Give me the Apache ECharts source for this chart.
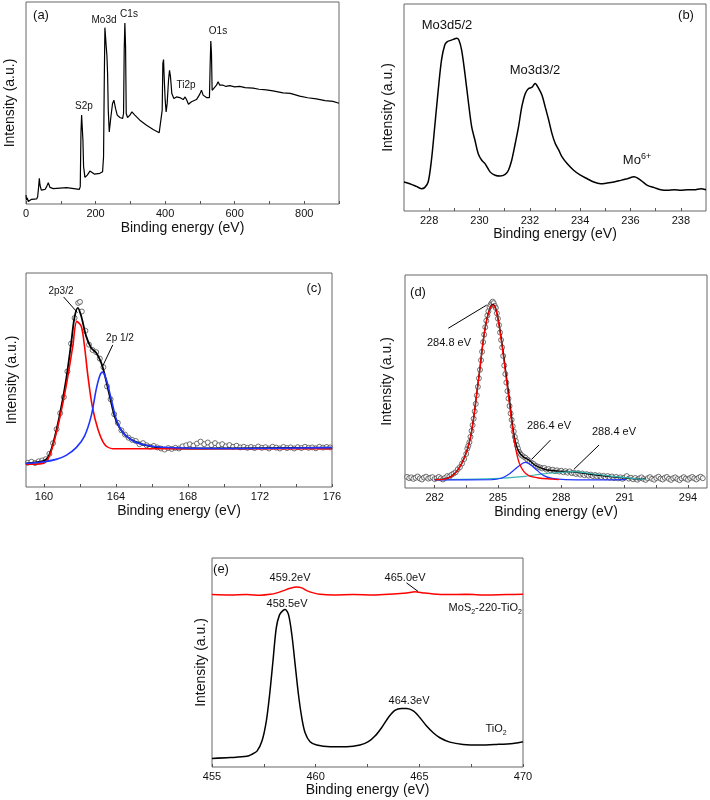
<!DOCTYPE html>
<html><head><meta charset="utf-8">
<script src="https://cdn.jsdelivr.net/npm/echarts@6/dist/echarts.min.js"></script>
<style>html,body{margin:0;padding:0;background:#fff}#c{width:710px;height:800px}</style>
</head><body><div id="c"></div>
<script>
// ---------- (a) survey ----------
const aX = [0,1.9,3.8,6.7,16,30.6,33.5,36.4,38.3,40.2,44,54.6,59.4,64.1,69,78.5,116.8,153.2,156,158,159.9,161.8,163.7,165.6,169.5,176.2,183.8,188.6,196.3,212.5,220.2,223,225,226.9,228.8,230.7,232.6,234.6,236.5,239.4,244.1,248.9,252.7,257.5,262.3,270,277.7,280.5,282.4,284.3,286.3,288.2,292,298.7,304.5,313,327.4,346.6,365.7,383,388.7,391.6,393.5,395.5,397.3,400.2,403,405.9,409.8,412.7,415.5,419.3,425.1,432.7,442.3,451.9,457.6,459.6,462.4,467.2,475.8,490.2,499.8,504.5,509.3,518.9,527.5,529.4,531.4,533.3,535.2,540,547.7,552.4,557.2,566.8,575,585.9,600,614.6,630,653,670,691.2,710,739.1,760,787,810,834.9,860,882.7,900];
const aY = [4.4,2.0,3.0,1.2,2.3,2.5,3.6,8.6,12.7,9.4,6.9,7.2,8.6,10.5,8.2,7.6,8.1,7.2,8.6,34.9,44.0,43.2,31.6,18.5,13.2,14.3,16.3,16.0,14.8,15.2,16.0,23.4,59.6,87.3,86.8,77.8,73.6,64.6,46.5,35.7,43.2,49.8,51.4,47.3,44.0,42.8,42.3,44.8,76.1,89.6,77.8,44.8,42.8,44.0,45.6,44.0,41.5,39.0,36.9,35.3,35.4,46.5,69.5,71.5,62.9,51.4,45.6,49.8,61.3,66.2,62.9,54.7,52.2,53.0,52.7,51.7,53.0,53.9,51.4,49.4,50.6,51.7,54.4,56.3,53.9,52.7,52.7,67.9,80.7,74.5,56.3,56.7,58.8,60.5,58.8,58.8,58.2,58.6,58.0,58.2,57.6,57.4,56.8,56.5,56.0,55.0,54.8,53.4,52.6,52.0,51.2,50.8,49.9];
const aTicks = [0,200,400,600,800];

// ---------- (b) Mo 3d ----------
const bX = [227.00,227.23,227.49,227.69,227.82,227.96,228.09,228.22,228.36,228.49,228.62,228.72,228.82,228.96,229.09,229.18,229.29,229.42,229.55,229.69,229.82,229.95,230.09,230.22,230.42,230.62,230.82,231.02,231.15,231.28,231.42,231.55,231.68,231.82,231.95,232.08,232.21,232.35,232.48,232.61,232.75,232.88,233.01,233.15,233.28,233.48,233.74,234.01,234.28,234.54,234.81,235.07,235.34,235.61,235.87,236.14,236.41,236.67,236.94,237.20,237.47,237.74,238.00,238.27,238.53,238.80,239.00];
const bY = [14.0,13.2,11.9,10.8,11.3,14.0,24.5,40.6,58.4,72.9,80.2,81.8,82.3,82.9,83.4,82.6,77.7,66.5,53.5,40.6,34.2,27.7,24.5,22.9,18.9,17.3,16.9,17.7,19.7,24.5,32.6,40.6,50.3,56.8,59.2,59.7,61.6,59.2,56.0,50.3,43.9,37.4,32.6,29.4,26.1,22.9,19.7,17.3,15.6,14.0,13.2,13.5,14.0,14.8,15.6,16.5,14.8,12.4,11.3,10.3,10.0,10.3,10.0,10.3,10.3,10.8,10.3];
const bTicks = [228,230,232,234,236,238];

// ---------- (c) S 2p ----------
const cPts = [[159.1,11.3],[159.3,11.8],[159.5,11.2],[159.7,12.0],[159.9,12.4],[160.1,13.0],[160.3,15.5],[160.5,20.5],[160.7,27.0],[160.9,34.5],[161.1,42.0],[161.3,54.0],[161.5,67.0],[161.7,79.0],[161.9,86.0],[162.0,86.5],[162.1,82.0],[162.3,73.0],[162.5,66.5],[162.7,64.0],[162.9,63.0],[163.1,60.0],[163.3,56.0],[163.5,47.0],[163.7,41.0],[163.9,34.0],[164.1,30.0],[164.3,26.5],[164.5,24.5],[164.7,23.0],[164.9,22.0],[165.1,21.5],[165.3,20.0],[165.5,20.5],[165.7,19.5],[165.9,18.8],[166.1,19.2],[166.3,18.5],[166.5,18.0],[166.7,17.5],[166.9,18.2],[167.1,17.8],[167.3,18.3],[167.5,18.0],[167.7,19.0],[167.9,19.5],[168.1,20.0],[168.3,19.3],[168.5,20.3],[168.7,21.2],[168.9,20.0],[169.1,20.8],[169.3,19.6],[169.5,20.5],[169.7,19.5],[169.9,20.0],[170.1,19.0],[170.3,19.6],[170.5,18.8],[170.7,19.3],[170.9,18.5],[171.1,18.8],[171.3,18.3],[171.5,18.7],[171.7,18.2],[171.9,18.9],[172.1,18.3],[172.3,18.6],[172.5,18.0],[172.7,18.8],[172.9,18.4],[173.1,18.0],[173.3,18.7],[173.5,18.2],[173.7,18.5],[173.9,18.0],[174.1,18.6],[174.3,18.2],[174.5,18.8],[174.7,18.3],[174.9,18.5],[175.1,18.1],[175.3,18.8],[175.5,18.4],[175.7,18.7],[175.9,18.5]];
const cEnvX = [159.0,159.93,160.21,160.49,160.86,161.23,161.51,161.69,161.88,162.07,162.34,162.62,162.90,163.18,163.37,163.65,163.92,164.20,164.57,165.13,165.87,166.80,168.66,172.38,176.0];
const cEnvY = [11.0,12.1,13.7,19.9,33.1,50.2,67.3,79.0,83.7,79.8,70.5,65.0,62.7,58.0,52.6,42.5,33.1,27.7,23.8,21.0,19.1,18.2,18.0,18.2,18.4];
const cRedX = [159.0,159.93,160.21,160.49,160.86,161.23,161.60,161.82,162.07,162.25,162.44,162.68,163.0,163.37,163.83,167.55,176.0];
const cRedY = [10.6,11.0,12.9,19.1,31.6,47.1,65.8,77.4,75.1,65.8,51.8,37.8,26.9,19.9,17.9,17.9,17.9];
const cBlueX = [159.0,159.93,160.67,161.23,161.79,162.25,162.62,162.90,163.09,163.24,163.46,163.74,164.02,164.39,164.95,165.50,166.25,167.73,170.52,176.0];
const cBlueY = [11.0,11.7,12.9,14.8,18.4,23.8,33.1,45.6,51.8,53.7,50.2,40.9,31.6,25.3,21.5,19.9,18.8,18.2,18.0,18.4];
const cTicks = [160,164,168,172,176];
const cMinor = [160,162,164,166,168,170,172,174,176];

// ---------- (d) C 1s ----------
const dPts = [[280.7,5.2],[280.8,4.6],[280.9,5.0],[281.0,4.3],[281.1,4.8],[281.2,5.4],[281.3,4.5],[281.4,4.0],[281.5,4.9],[281.6,5.3],[281.7,4.4],[281.8,4.8],[281.9,5.1],[282.0,4.2],[282.1,4.6],[282.2,5.2],[282.3,4.5],[282.4,4.0],[282.5,4.8],[282.6,5.6],[282.7,5.3],[282.8,6.2],[282.9,6.8],[283.0,7.4],[283.1,8.8],[283.2,9.8],[283.3,11.5],[283.4,13.6],[283.5,16.0],
[283.55,18.5],[283.6,19.8],[283.65,21.5],[283.7,24.0],[283.75,26.8],[283.8,29.5],[283.85,32.5],[283.9,36.0],[283.95,39.5],[284.0,43.5],[284.05,47.5],[284.1,51.5],[284.15,55.5],[284.2,60.0],[284.25,64.0],[284.3,68.5],[284.35,72.0],[284.4,75.5],[284.45,78.5],[284.5,81.0],[284.55,83.0],[284.6,85.0],[284.65,86.0],[284.7,86.8],[284.75,87.5],[284.8,86.8],[284.85,85.5],[284.9,84.5],[284.95,82.0],[285.0,79.5],[285.05,76.5],[285.1,73.0],[285.15,69.5],[285.2,66.0],[285.25,62.0],[285.3,57.5],[285.35,53.5],[285.4,49.5],[285.45,45.5],[285.5,42.0],[285.55,38.5],[285.6,35.0],[285.65,32.0],[285.7,29.0],[285.75,26.5],[285.8,24.0],[285.85,22.0],[285.9,20.0],[285.95,18.5],[286.0,17.0],
[286.05,16.2],[286.1,15.5],[286.2,14.8],[286.3,14.2],[286.4,13.3],[286.5,12.6],[286.6,11.8],[286.7,11.2],[286.8,10.4],[286.9,10.0],[287.0,9.6],[287.1,9.2],[287.2,9.4],[287.3,8.6],[287.4,8.9],[287.5,8.3],[287.6,8.6],[287.7,7.9],[287.8,8.3],[287.9,7.7],[288.0,8.1],[288.1,7.4],[288.2,7.9],[288.3,7.2],[288.4,7.8],[288.5,7.0],[288.6,7.2],[288.7,6.6],[288.8,7.0],[288.9,6.3],[289.0,6.8],[289.1,6.0],[289.2,6.5],[289.3,5.8],[289.4,6.3],[289.5,5.6],[289.6,6.1],[289.7,5.4],[289.8,5.9],[289.9,5.2],[290.0,5.7],[290.1,5.0],[290.2,5.6],[290.3,4.8],[290.4,5.4],[290.5,4.6],[290.6,5.2],[290.7,4.5],[290.8,5.0],[290.9,4.3],[291.0,4.9],[291.1,5.6],[291.2,4.4],[291.3,4.8],[291.4,4.1],[291.5,4.7],[291.6,3.9],[291.7,4.5],[291.8,5.0],[291.9,4.2],[292.0,3.8],[292.1,4.6],[292.2,5.1],[292.3,4.3],[292.4,3.9],[292.5,4.7],[292.6,5.3],[292.7,4.4],[292.8,4.0],[292.9,4.8],[293.0,5.2],[293.1,4.3],[293.2,3.8],[293.3,4.6],[293.4,5.0],[293.5,4.2],[293.6,3.7],[293.7,4.5],[293.8,5.1],[293.9,4.4],[294.0,3.9],[294.1,4.7],[294.2,5.2],[294.3,4.5],[294.4,4.0],[294.5,4.8],[294.6,5.3],[294.7,4.6]];
const dEnvX = [282.01,282.49,282.81,283.12,283.44,283.68,283.84,284.0,284.16,284.31,284.47,284.63,284.76,284.90,285.06,285.22,285.38,285.54,285.70,285.82,285.98,286.22,286.46,286.77,287.25,287.89,288.52,289.47,290.43,291.38,292.01];
const dEnvY = [4.0,4.3,5.6,8.7,14.9,22.8,32.1,44.6,57.1,69.6,79.0,84.6,86.2,84.2,76.6,66.0,54.0,42.0,29.0,22.0,17.2,14.5,13.2,10.6,8.7,7.9,7.6,6.3,5.2,4.4,4.1];
const dRedX = [282.01,282.49,282.81,283.12,283.44,283.68,283.84,284.0,284.16,284.31,284.47,284.63,284.76,284.90,285.06,285.22,285.38,285.54,285.70,285.85,286.01,286.22,286.46,286.93,287.57,287.89];
const dRedY = [3.9,4.2,5.5,8.6,14.8,22.7,32.0,44.5,57.0,69.5,78.9,84.4,85.9,83.6,75.8,64.8,52.3,39.8,27.3,18.0,11.7,7.8,5.8,4.7,4.2,3.9];
const dBlueX = [282.0,284.71,285.19,285.50,285.82,286.14,286.30,286.54,286.85,287.17,287.57,288.20,289.47,291.06];
const dBlueY = [3.8,3.9,4.7,6.3,8.9,11.4,12.0,10.9,8.3,5.8,4.5,3.9,3.8,3.9];
const dTealX = [282.01,284.71,286.30,287.09,287.89,288.52,289.47,290.43,291.38,292.01];
const dTealY = [3.9,4.4,5.5,6.6,7.3,7.7,6.7,5.5,4.5,3.9];
const dTicks = [282,285,288,291,294];
const dMinor = [282,283.5,285,286.5,288,289.5,291,292.5,294];

// ---------- (e) Ti 2p ----------
const eRedX = [455.0,455.88,456.68,457.33,457.81,458.13,458.45,458.77,459.09,459.33,459.57,459.89,460.21,460.86,461.82,462.78,463.74,464.39,464.79,465.19,465.67,466.31,467.27,468.24,469.2,470.0];
const eRedY = [82.5,82.3,82.5,82.2,82.6,83.3,84.4,85.5,86.1,85.7,84.4,83.3,82.6,82.3,82.5,82.3,82.8,83.3,83.8,83.3,82.8,82.5,82.6,82.3,82.5,82.6];
const eBlkX = [455.0,455.88,456.68,456.93,457.17,457.41,457.62,457.78,457.94,458.10,458.26,458.42,458.53,458.69,458.85,459.01,459.17,459.33,459.49,459.73,460.05,460.70,461.50,462.14,462.54,462.86,463.18,463.50,463.82,464.14,464.39,464.71,465.03,465.35,465.67,465.99,466.47,467.11,467.92,468.72,469.52,470.0];
const eBlkY = [4.1,4.5,5.1,6.1,7.6,12.4,22.0,34.7,50.6,66.6,72.9,74.8,75.3,72.9,63.4,49.0,34.7,23.6,16.4,12.1,10.5,9.7,9.7,10.5,12.1,14.8,18.8,23.6,27.1,28.0,28.0,26.8,23.6,19.6,16.4,14.0,11.9,10.8,10.5,10.8,11.3,12.1];
const eTicks = [455,460,465,470];

// ---------- helpers ----------
const zip = (xs, ys) => xs.map((x, i) => [x, ys[i]]);
const FONT = 'Liberation Sans, Arial, Helvetica, sans-serif';
const TXT = '#111';

const grids = [
  {left: 26, top: 2, width: 313, height: 202},
  {left: 404, top: 4, width: 302, height: 207},
  {left: 26, top: 273, width: 306, height: 214},
  {left: 405, top: 275, width: 302, height: 213},
  {left: 212, top: 558, width: 311, height: 209}
].map(g => Object.assign({show: true, borderColor: '#666', borderWidth: 1, backgroundColor: 'transparent'}, g));

function xAx(i, min, max, labels, ticks, gap) {
  return {
    gridIndex: i, type: 'value', min: min, max: max,
    name: 'Binding energy (eV)', nameLocation: 'middle', nameGap: gap,
    nameTextStyle: {fontFamily: FONT, fontSize: 14, color: TXT},
    axisLine: {show: false},
    axisTick: {show: true, inside: true, length: 3, lineStyle: {color: '#555'}, customValues: ticks},
    axisLabel: {fontFamily: FONT, fontSize: 11, color: TXT, margin: 4, customValues: labels},
    splitLine: {show: false}
  };
}
function yAx(i, gap) {
  return {
    gridIndex: i, type: 'value', min: 0, max: 100,
    name: 'Intensity (a.u.)', nameLocation: 'middle', nameRotate: 90, nameGap: gap,
    nameTextStyle: {fontFamily: FONT, fontSize: 14, color: TXT},
    axisLine: {show: false}, axisTick: {show: false}, axisLabel: {show: false}, splitLine: {show: false}
  };
}

function line(i, data, color, width, smooth, extra) {
  return Object.assign({
    type: 'line', xAxisIndex: i, yAxisIndex: i, data: data, showSymbol: false, symbol: 'none',
    smooth: smooth, lineStyle: {color: color, width: width}, silent: true, animation: false
  }, extra || {});
}
function circles(i, data) {
  return {
    type: 'scatter', xAxisIndex: i, yAxisIndex: i, data: data, symbol: 'circle', symbolSize: 5,
    itemStyle: {color: '#fff', borderColor: '#3a3a3a', borderWidth: 0.9}, silent: true, animation: false
  };
}
function arrows(list) {
  return {
    silent: true, symbol: ['none', 'arrow'], symbolSize: [0, 7], animation: false,
    label: {show: false}, lineStyle: {color: '#000', width: 1, type: 'solid'},
    data: list.map(a => [{coord: a[0]}, {coord: a[1]}])
  };
}

function txt(x, y, text, size, align, extra) {
  return Object.assign({
    type: 'text', x: x, y: y, silent: true,
    style: {text: text, fontFamily: FONT, fontSize: size, fill: TXT, align: align || 'center', verticalAlign: 'middle'}
  }, extra || {});
}
function rich(x, y, text, size, align) {
  return {
    type: 'text', x: x, y: y, silent: true,
    style: {
      text: text, fontFamily: FONT, fontSize: size, fill: TXT, align: align || 'center', verticalAlign: 'middle',
      rich: {
        n: {fontFamily: FONT, fontSize: size, fill: TXT, lineHeight: 16},
        sub: {fontFamily: FONT, fontSize: size - 4, fill: TXT, lineHeight: 16, verticalAlign: 'bottom'},
        sup: {fontFamily: FONT, fontSize: size - 4, fill: TXT, lineHeight: 16, verticalAlign: 'top'}
      }
    }
  };
}

const option = {
  backgroundColor: '#fff',
  animation: false,
  grid: grids,
  xAxis: [
    xAx(0, 0, 900, aTicks, [0,100,200,300,400,500,600,700,800,900], 17),
    xAx(1, 227, 239, bTicks, [228,229,230,231,232,233,234,235,236,237,238], 15),
    xAx(2, 159, 176, cTicks, cMinor, 17),
    xAx(3, 280.6, 294.9, dTicks, dMinor, 17),
    xAx(4, 455, 470, eTicks, [455,457.5,460,462.5,465,467.5,470], 15)
  ],
  yAxis: [yAx(0, 9), yAx(1, 9), yAx(2, 7), yAx(3, 11), yAx(4, 4)],
  series: [
    line(0, zip(aX, aY), '#000', 1.2, false),
    line(1, zip(bX, bY), '#000', 1.5, 0.3),
    circles(2, cPts),
    line(2, zip(cEnvX, cEnvY), '#000', 1.8, 0.3),
    line(2, zip(cRedX, cRedY), '#ff0000', 1.6, 0.3),
    line(2, zip(cBlueX, cBlueY), '#1f35ff', 1.6, 0.3, {
      markLine: arrows([[[161.09, 88.8], [161.86, 81.5]], [[163.82, 66.4], [163.26, 56.5]]])
    }),
    circles(3, dPts),
    line(3, zip(dEnvX, dEnvY), '#000', 1.4, 0.3),
    line(3, zip(dTealX, dTealY), '#35b5b5', 1.2, 0.3),
    line(3, zip(dBlueX, dBlueY), '#1f35ff', 1.2, 0.3),
    line(3, zip(dRedX, dRedY), '#ff0000', 1.3, 0.3, {
      markLine: arrows([[[282.65, 75.0], [284.47, 85.9]], [[287.49, 22.5], [286.61, 13.6]], [[289.79, 20.2], [288.6, 8.8]]])
    }),
    line(4, zip(eRedX, eRedY), '#ff0000', 1.5, 0.3, {
      markLine: arrows([[[464.38, 88.1], [464.94, 84.0]]])
    }),
    line(4, zip(eBlkX, eBlkY), '#000', 1.5, 0.3)
  ],
  graphic: [
    // (a)
    txt(41, 15, '(a)', 13),
    txt(104, 20, 'Mo3d', 10),
    txt(129, 14, 'C1s', 10),
    txt(218, 31, 'O1s', 10),
    txt(84, 106, 'S2p', 10),
    txt(186, 85, 'Ti2p', 10),
    // (b)
    txt(686, 15, '(b)', 13),
    txt(447, 25, 'Mo3d5/2', 13),
    txt(535, 70, 'Mo3d3/2', 13),
    rich(637, 160, '{n|Mo}{sup|6+}', 13),
    // (c)
    txt(314, 288, '(c)', 13),
    txt(61, 291, '2p3/2', 10),
    txt(120, 338, '2p 1/2', 10),
    // (d)
    txt(418, 292, '(d)', 13),
    txt(449, 343, '284.8 eV', 11),
    txt(549, 426, '286.4 eV', 11),
    txt(614, 432, '288.4 eV', 11),
    // (e)
    txt(221, 569, '(e)', 13),
    txt(290, 578, '459.2eV', 11),
    txt(405, 578, '465.0eV', 11),
    txt(287, 604, '458.5eV', 11),
    rich(522, 608, '{n|MoS}{sub|2}{n|-220-TiO}{sub|2}', 11, 'right'),
    txt(409, 701, '464.3eV', 11),
    rich(496, 729, '{n|TiO}{sub|2}', 11)
  ]
};
const chart = echarts.init(document.getElementById('c'), null, {renderer: 'canvas'});
chart.setOption(option);
</script></body></html>
